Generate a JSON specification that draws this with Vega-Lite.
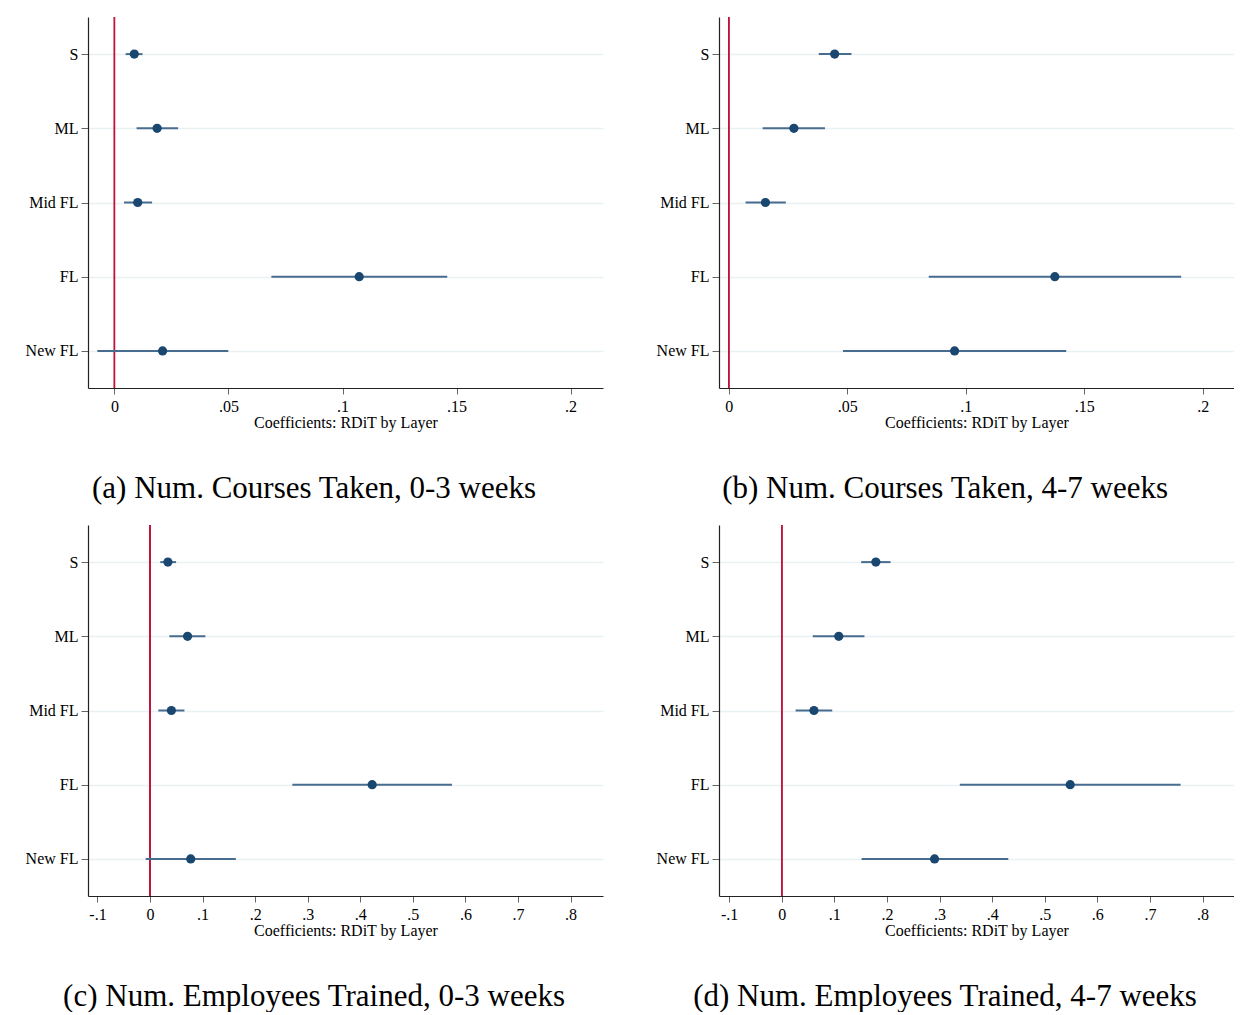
{
  "$schema": "https://vega.github.io/schema/vega-lite/v6.json",
  "description": "RDiT coefficients by layer, four panels",
  "padding": {"left": 25, "top": 16, "right": 0, "bottom": 0},
  "background": "white",
  "datasets": {
    "coefs": [
      {"panel": "a", "layer": "S", "coef": 0.0087, "lo": 0.0049, "hi": 0.0123},
      {"panel": "a", "layer": "ML", "coef": 0.0187, "lo": 0.0097, "hi": 0.0279},
      {"panel": "a", "layer": "Mid FL", "coef": 0.0102, "lo": 0.0042, "hi": 0.0165},
      {"panel": "a", "layer": "FL", "coef": 0.1073, "lo": 0.0688, "hi": 0.1459},
      {"panel": "a", "layer": "New FL", "coef": 0.0211, "lo": -0.0075, "hi": 0.0499},
      {"panel": "b", "layer": "S", "coef": 0.0447, "lo": 0.038, "hi": 0.0518},
      {"panel": "b", "layer": "ML", "coef": 0.0275, "lo": 0.0143, "hi": 0.0406},
      {"panel": "b", "layer": "Mid FL", "coef": 0.0155, "lo": 0.0071, "hi": 0.0241},
      {"panel": "b", "layer": "FL", "coef": 0.1376, "lo": 0.0844, "hi": 0.1909},
      {"panel": "b", "layer": "New FL", "coef": 0.0953, "lo": 0.0482, "hi": 0.1424},
      {"panel": "c", "layer": "S", "coef": 0.034, "lo": 0.0195, "hi": 0.0496},
      {"panel": "c", "layer": "ML", "coef": 0.0714, "lo": 0.0368, "hi": 0.1053},
      {"panel": "c", "layer": "Mid FL", "coef": 0.0406, "lo": 0.0158, "hi": 0.0654},
      {"panel": "c", "layer": "FL", "coef": 0.4226, "lo": 0.2707, "hi": 0.5744},
      {"panel": "c", "layer": "New FL", "coef": 0.0774, "lo": -0.0083, "hi": 0.1632},
      {"panel": "d", "layer": "S", "coef": 0.1789, "lo": 0.151, "hi": 0.2068},
      {"panel": "d", "layer": "ML", "coef": 0.1084, "lo": 0.0589, "hi": 0.1572},
      {"panel": "d", "layer": "Mid FL", "coef": 0.0612, "lo": 0.0263, "hi": 0.096},
      {"panel": "d", "layer": "FL", "coef": 0.5484, "lo": 0.3385, "hi": 0.7583},
      {"panel": "d", "layer": "New FL", "coef": 0.2905, "lo": 0.1518, "hi": 0.4307}
    ]
  },
  "columns": 2,
  "spacing": {"column": 53, "row": 20},
  "concat": [
    {
      "width": 515,
      "height": 371,
      "title": {"text": "(a) Num. Courses Taken, 0-3 weeks"},
      "data": {"name": "coefs"},
      "transform": [{"filter": "datum.panel == 'a'"}],
      "encoding": {
        "y": {
          "field": "layer",
          "type": "nominal",
          "sort": ["S", "ML", "Mid FL", "FL", "New FL"],
          "scale": {"type": "point", "padding": 0.5},
          "axis": {"title": null, "grid": true}
        }
      },
      "layer": [
        {
          "mark": {"type": "rule", "color": "#c0143c", "strokeWidth": 1.2},
          "encoding": {
            "y": null,
            "x": {
              "datum": 0,
              "type": "quantitative",
              "scale": {"domain": [-0.0116, 0.2142], "nice": false, "zero": false},
              "axis": {
                "title": "Coefficients: RDiT by Layer",
                "values": [0, 0.05, 0.1, 0.15, 0.2],
                "labelExpr": "datum.value == 0 ? '0' : (datum.value < 0 ? '-' + substring(toString(-datum.value), 1) : substring(toString(datum.value), 1))"
              }
            }
          }
        },
        {
          "mark": {"type": "rule", "color": "#486c8f", "strokeWidth": 2},
          "encoding": {"x": {"field": "lo", "type": "quantitative"}, "x2": {"field": "hi"}}
        },
        {
          "mark": {"type": "circle", "size": 85, "color": "#1a476f", "opacity": 1},
          "encoding": {"x": {"field": "coef", "type": "quantitative"}}
        }
      ]
    },
    {
      "width": 515,
      "height": 371,
      "title": {"text": "(b) Num. Courses Taken, 4-7 weeks"},
      "data": {"name": "coefs"},
      "transform": [{"filter": "datum.panel == 'b'"}],
      "encoding": {
        "y": {
          "field": "layer",
          "type": "nominal",
          "sort": ["S", "ML", "Mid FL", "FL", "New FL"],
          "scale": {"type": "point", "padding": 0.5},
          "axis": {"title": null, "grid": true}
        }
      },
      "layer": [
        {
          "mark": {"type": "rule", "color": "#c0143c", "strokeWidth": 1.2},
          "encoding": {
            "y": null,
            "x": {
              "datum": 0,
              "type": "quantitative",
              "scale": {"domain": [-0.0041, 0.2132], "nice": false, "zero": false},
              "axis": {
                "title": "Coefficients: RDiT by Layer",
                "values": [0, 0.05, 0.1, 0.15, 0.2],
                "labelExpr": "datum.value == 0 ? '0' : (datum.value < 0 ? '-' + substring(toString(-datum.value), 1) : substring(toString(datum.value), 1))"
              }
            }
          }
        },
        {
          "mark": {"type": "rule", "color": "#486c8f", "strokeWidth": 2},
          "encoding": {"x": {"field": "lo", "type": "quantitative"}, "x2": {"field": "hi"}}
        },
        {
          "mark": {"type": "circle", "size": 85, "color": "#1a476f", "opacity": 1},
          "encoding": {"x": {"field": "coef", "type": "quantitative"}}
        }
      ]
    },
    {
      "width": 515,
      "height": 371,
      "title": {"text": "(c) Num. Employees Trained, 0-3 weeks"},
      "data": {"name": "coefs"},
      "transform": [{"filter": "datum.panel == 'c'"}],
      "encoding": {
        "y": {
          "field": "layer",
          "type": "nominal",
          "sort": ["S", "ML", "Mid FL", "FL", "New FL"],
          "scale": {"type": "point", "padding": 0.5},
          "axis": {"title": null, "grid": true}
        }
      },
      "layer": [
        {
          "mark": {"type": "rule", "color": "#c0143c", "strokeWidth": 1.2},
          "encoding": {
            "y": null,
            "x": {
              "datum": 0,
              "type": "quantitative",
              "scale": {"domain": [-0.118, 0.8617], "nice": false, "zero": false},
              "axis": {
                "title": "Coefficients: RDiT by Layer",
                "values": [-0.1, 0, 0.1, 0.2, 0.3, 0.4, 0.5, 0.6, 0.7, 0.8],
                "labelExpr": "datum.value == 0 ? '0' : (datum.value < 0 ? '-' + substring(toString(-datum.value), 1) : substring(toString(datum.value), 1))"
              }
            }
          }
        },
        {
          "mark": {"type": "rule", "color": "#486c8f", "strokeWidth": 2},
          "encoding": {"x": {"field": "lo", "type": "quantitative"}, "x2": {"field": "hi"}}
        },
        {
          "mark": {"type": "circle", "size": 85, "color": "#1a476f", "opacity": 1},
          "encoding": {"x": {"field": "coef", "type": "quantitative"}}
        }
      ]
    },
    {
      "width": 515,
      "height": 371,
      "title": {"text": "(d) Num. Employees Trained, 4-7 weeks"},
      "data": {"name": "coefs"},
      "transform": [{"filter": "datum.panel == 'd'"}],
      "encoding": {
        "y": {
          "field": "layer",
          "type": "nominal",
          "sort": ["S", "ML", "Mid FL", "FL", "New FL"],
          "scale": {"type": "point", "padding": 0.5},
          "axis": {"title": null, "grid": true}
        }
      },
      "layer": [
        {
          "mark": {"type": "rule", "color": "#c0143c", "strokeWidth": 1.2},
          "encoding": {
            "y": null,
            "x": {
              "datum": 0,
              "type": "quantitative",
              "scale": {"domain": [-0.1193, 0.8598], "nice": false, "zero": false},
              "axis": {
                "title": "Coefficients: RDiT by Layer",
                "values": [-0.1, 0, 0.1, 0.2, 0.3, 0.4, 0.5, 0.6, 0.7, 0.8],
                "labelExpr": "datum.value == 0 ? '0' : (datum.value < 0 ? '-' + substring(toString(-datum.value), 1) : substring(toString(datum.value), 1))"
              }
            }
          }
        },
        {
          "mark": {"type": "rule", "color": "#486c8f", "strokeWidth": 2},
          "encoding": {"x": {"field": "lo", "type": "quantitative"}, "x2": {"field": "hi"}}
        },
        {
          "mark": {"type": "circle", "size": 85, "color": "#1a476f", "opacity": 1},
          "encoding": {"x": {"field": "coef", "type": "quantitative"}}
        }
      ]
    }
  ],
  "config": {
    "view": {"stroke": null},
    "axis": {
      "labelFont": "Liberation Serif",
      "titleFont": "Liberation Serif",
      "labelFontSize": 16,
      "titleFontSize": 16,
      "titleFontWeight": "normal",
      "labelColor": "black",
      "titleColor": "black",
      "domainColor": "#222222",
      "domainWidth": 1.2,
      "tickColor": "#666666",
      "tickSize": 6,
      "labelPadding": 4
    },
    "axisX": {"grid": false, "titlePadding": 0},
    "axisY": {"gridColor": "#eaf1f4", "gridWidth": 1.5, "tickSize": 7, "labelPadding": 3},
    "title": {
      "orient": "bottom",
      "anchor": "middle",
      "frame": "bounds",
      "font": "Liberation Serif",
      "fontSize": 31,
      "fontWeight": "normal",
      "color": "black",
      "offset": 44
    }
  }
}
